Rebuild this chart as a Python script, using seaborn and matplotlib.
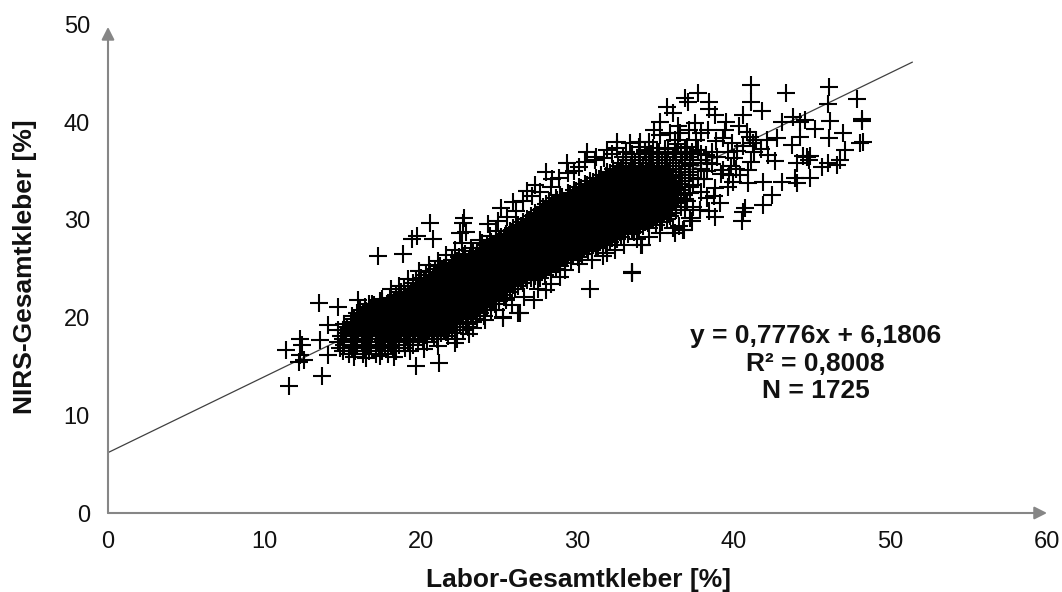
import matplotlib
matplotlib.use('Agg')
import matplotlib.pyplot as plt
import pandas as pd
import seaborn as sns

# scattered points
outer_x = [11.59, 11.37, 12.27, 12.37, 12.27, 12.5, 12.2, 13.67, 13.48, 14.67, 14.07, 13.55, 14.7, 14.07,
           17.23, 18.83, 20.58, 19.72, 19.4, 20.77, 22.75, 22.7, 22.5, 19.66, 21.15, 22.17, 23.07, 25.25, 26.2,
           41.09, 41.09, 43.32, 46.07, 45.99, 47.88, 37.68, 36.87, 37.06, 38.4, 38.4, 35.7, 36.1, 35.27, 38.8,
           41.77, 40.6, 43.05, 43.78, 44.2, 44.55, 46.13, 45.18, 48.2, 48.2, 46.97, 46.07, 48.25, 48.05, 47.09,
           44.2, 42.73, 43.68, 44.64, 44.86, 44.4, 44.8, 46.77, 46.56, 46.0, 45.6, 44.86, 43.9, 44.0, 43.05,
           41.85, 42.4, 41.85, 42.6, 42.2, 44.0, 40.9, 40.7, 40.6, 40.5, 38.8, 37.8, 38.25, 39.1, 36.9, 36.2,
           36.75, 34.06, 33.46, 33.5, 39.5, 39.4, 37.5, 36.55, 35.9, 38.85, 38.35, 32.5, 33.35, 34.0, 34.6,
           39.95, 39.6, 41.1, 40.3, 41.0, 41.4, 41.2, 40.8, 39.3, 40.1, 39.7]
outer_y = [13.0, 16.7, 17.8, 17.2, 16.2, 15.7, 15.5, 14.05, 21.5, 21.05, 19.2, 17.7, 18.7, 16.2,
           26.3, 26.5, 29.7, 28.35, 28.0, 28.0, 30.2, 29.7, 28.7, 15.05, 15.4, 17.4, 18.3, 20.1, 20.45,
           43.8, 42.1, 42.95, 43.6, 41.9, 42.4, 43.0, 42.45, 42.1, 42.1, 41.4, 41.6, 40.9, 40.05, 40.7,
           41.1, 40.7, 40.05, 40.56, 40.05, 40.2, 40.15, 39.3, 40.3, 40.1, 38.9, 38.4, 38.0, 37.9, 37.15,
           38.5, 38.4, 37.67, 36.4, 36.5, 36.5, 36.1, 36.1, 35.6, 35.8, 35.4, 34.3, 34.3, 33.75, 33.9,
           33.9, 32.55, 31.5, 36.0, 36.6, 35.8, 33.75, 31.2, 30.85, 29.9, 30.3, 31.0, 32.2, 31.7, 31.0, 28.65,
           28.95, 27.4, 24.7, 24.6, 40.05, 39.2, 39.9, 38.9, 38.9, 38.1, 39.2, 38.0, 37.85, 38.0, 38.0,
           33.9, 33.4, 35.9, 39.6, 38.5, 38.2, 37.9, 39.0, 38.4, 35.2, 34.6]

# edge of the dense band and the thinner part between x = 36 and x = 41
edge_x = [22.9, 23.8, 24.3, 24.9, 25.1, 25.9, 26.8, 27.3, 28.0, 28.4, 29.3, 29.8, 30.6, 31.2, 31.9, 32.5, 33.1,
          33.9, 34.6, 26.3, 25.25, 27.2, 28.0, 30.8, 33.5, 34.1, 25.4, 31.9, 31.2, 28.9,
          36.4, 37.0, 37.7, 38.2, 38.9, 39.6, 37.2, 37.9, 38.6, 39.3, 40.0, 36.7, 37.4, 38.1, 38.8, 35.8, 36.5, 37.2]
edge_y = [28.8, 27.9, 29.6, 29.9, 31.2, 31.8, 33.0, 33.6, 34.9, 34.2, 35.8, 35.0, 37.0, 36.4, 37.2, 37.4, 36.9,
          37.5, 36.9, 20.5, 20.0, 21.8, 22.8, 22.9, 24.7, 27.4, 21.8, 26.6, 27.2, 24.2,
          37.8, 36.9, 37.2, 36.6, 36.4, 36.9, 35.6, 35.2, 35.7, 35.1, 36.3, 34.0, 33.6, 34.2, 33.3, 30.6, 29.4, 30.2]

# uneven fringe around the band: upper side, lower side, then right of it
fringe_x = [16.0, 16.7, 17.5, 18.1, 18.6, 19.2, 19.9, 20.5, 21.1, 21.6, 22.2, 22.6, 23.2, 23.9, 24.4, 24.8, 25.5, 26.1,
            26.5, 27.1, 27.6, 28.3, 28.8, 29.4, 30.1, 30.5, 31.1, 31.7, 32.2, 32.9, 33.5, 34.3, 35.1, 35.6, 36.3, 37.0,
            15.7, 16.5, 17.4, 18.3, 19.3, 20.2, 21.1, 22.3, 23.3, 24.1, 24.8, 25.8, 26.6, 27.5, 28.3, 29.2, 30.1, 30.9,
            31.6, 32.4, 33.0, 33.8, 34.6, 35.3, 36.1, 36.8, 37.3,
            36.9, 37.4, 37.9, 38.4, 37.1, 37.7, 38.3, 38.7, 39.2, 39.8, 40.4, 40.9, 40.2, 39.9, 40.6, 41.3, 41.7, 42.1,
            37.9, 37.1, 36.4, 35.3, 34.9, 36.2, 37.6]
fringe_y = [21.8, 21.4, 21.9, 22.9, 23.2, 23.9, 24.8, 25.4, 25.8, 26.4, 26.9, 27.6, 27.1, 27.6, 28.4, 28.9, 30.3, 30.9,
            31.9, 32.4, 32.9, 33.4, 34.3, 34.8, 35.4, 35.9, 36.1, 36.3, 36.7, 36.4, 36.7, 37.2, 36.9, 37.3, 37.0, 37.5,
            16.0, 15.9, 16.1, 16.0, 16.6, 16.8, 17.1, 17.8, 18.9, 19.8, 20.8, 21.3, 22.1, 22.9, 23.4, 24.9, 25.5, 25.9,
            26.3, 26.9, 27.4, 28.0, 28.3, 28.7, 29.2, 29.0, 29.9,
            32.1, 31.3, 32.9, 30.9, 34.6, 34.2, 35.0, 32.4, 34.7, 35.5, 34.6, 35.1, 37.1, 37.9, 37.6, 36.9, 37.3, 38.2,
            38.9, 39.2, 39.6, 38.7, 39.2, 38.2, 38.2]

# dense black band: single crosses cannot be told apart, values estimated along rows of equal y
row_y = [16.3, 16.6, 16.9, 17.2, 17.5, 17.8, 18.1, 18.4, 18.7, 19.0, 19.3, 19.6, 19.9, 20.2, 20.5, 20.8, 21.1,
         21.4, 21.7, 22.0, 22.3, 22.6, 22.9, 23.2, 23.5, 23.8, 24.1, 24.4, 24.7, 25.0, 25.3, 25.6, 25.9, 26.2,
         26.5, 26.8, 27.1, 27.4, 27.7, 28.0, 28.3, 28.6, 28.9, 29.2, 29.5, 29.8, 30.1, 30.4, 30.7, 31.0, 31.3,
         31.6, 31.9, 32.2, 32.5, 32.8, 33.1, 33.4, 33.7, 34.0, 34.3, 34.6, 34.9, 35.2, 35.5, 35.8, 36.1, 36.4,
         36.7, 37.0, 37.4]
row_x = [
    [15.4, 16.3, 17.1, 17.9],
    [15.0, 15.8, 16.7, 17.5, 18.4],
    [14.8, 15.6, 16.4, 17.3, 18.2, 19.0],
    [15.1, 15.9, 16.8, 17.7, 18.6, 19.5],
    [14.7, 15.5, 16.3, 17.2, 18.0, 18.9, 19.8, 20.4],
    [15.0, 15.8, 16.6, 17.5, 18.4, 19.3, 20.1, 21.0],
    [14.9, 15.7, 16.5, 17.4, 18.2, 19.1, 19.9, 20.8, 21.7],
    [15.2, 16.0, 16.9, 17.8, 18.7, 19.6, 20.4, 21.3, 22.2],
    [15.0, 15.9, 16.7, 17.6, 18.5, 19.3, 20.2, 21.1, 22.0, 22.7],
    [15.3, 16.2, 17.0, 17.9, 18.8, 19.7, 20.6, 21.4, 22.3, 23.0],
    [15.1, 16.0, 16.8, 17.7, 18.6, 19.5, 20.3, 21.2, 22.1, 22.9],
    [15.5, 16.4, 17.3, 18.1, 19.0, 19.9, 20.8, 21.7, 22.5, 23.3],
    [15.7, 16.6, 17.5, 18.3, 19.2, 20.1, 21.0, 21.9, 22.7, 23.6],
    [15.6, 16.5, 17.4, 18.2, 19.1, 20.0, 20.9, 21.8, 22.6, 23.5, 24.0],
    [15.9, 16.8, 17.7, 18.6, 19.4, 20.3, 21.2, 22.1, 22.9, 23.8],
    [16.1, 17.0, 17.9, 18.8, 19.6, 20.5, 21.4, 22.3, 23.1, 24.0, 24.5],
    [16.4, 17.3, 18.1, 19.0, 19.9, 20.7, 21.6, 22.5, 23.4, 24.2],
    [16.9, 17.8, 18.7, 19.5, 20.4, 21.3, 22.2, 23.0, 23.9, 24.7],
    [17.4, 18.3, 19.2, 20.0, 20.9, 21.8, 22.7, 23.5, 24.4, 25.0],
    [18.0, 18.9, 19.7, 20.6, 21.5, 22.4, 23.2, 24.1, 25.0, 25.4],
    [18.4, 19.3, 20.1, 21.0, 21.9, 22.8, 23.6, 24.5, 25.3],
    [18.7, 19.6, 20.5, 21.3, 22.2, 23.1, 24.0, 24.8, 25.7],
    [18.9, 19.8, 20.7, 21.6, 22.4, 23.3, 24.2, 25.1, 26.0],
    [19.2, 20.1, 21.0, 21.8, 22.7, 23.6, 24.5, 25.3, 26.2],
    [19.5, 20.4, 21.2, 22.1, 23.0, 23.9, 24.7, 25.6, 26.5],
    [19.7, 20.6, 21.5, 22.3, 23.2, 24.1, 25.0, 25.9, 26.8, 27.2],
    [20.0, 20.9, 21.7, 22.6, 23.5, 24.4, 25.2, 26.1, 27.0, 27.6],
    [20.3, 21.2, 22.1, 22.9, 23.8, 24.7, 25.5, 26.4, 27.3, 27.9],
    [20.6, 21.4, 22.3, 23.2, 24.1, 24.9, 25.8, 26.7, 27.6, 28.3],
    [20.9, 21.8, 22.6, 23.5, 24.4, 25.2, 26.1, 27.0, 27.8, 28.6],
    [21.2, 22.1, 23.0, 23.8, 24.7, 25.6, 26.4, 27.3, 28.2, 28.9],
    [21.6, 22.5, 23.3, 24.2, 25.1, 25.9, 26.8, 27.7, 28.5, 29.2],
    [22.0, 22.8, 23.7, 24.5, 25.4, 26.3, 27.1, 28.0, 28.9, 29.6],
    [22.4, 23.2, 24.1, 24.9, 25.8, 26.6, 27.5, 28.4, 29.2, 30.0],
    [22.8, 23.6, 24.4, 25.3, 26.2, 27.0, 27.9, 28.7, 29.6, 30.3],
    [23.3, 24.1, 25.0, 25.8, 26.7, 27.5, 28.4, 29.2, 30.1, 30.7],
    [23.8, 24.6, 25.5, 26.3, 27.2, 28.0, 28.9, 29.7, 30.6, 31.3],
    [24.2, 25.0, 25.9, 26.7, 27.6, 28.4, 29.3, 30.2, 31.0, 31.8],
    [24.5, 25.4, 26.2, 27.1, 27.9, 28.8, 29.6, 30.5, 31.4, 32.1],
    [24.8, 25.7, 26.5, 27.4, 28.2, 29.1, 30.0, 30.8, 31.7, 32.5],
    [25.1, 26.0, 26.8, 27.7, 28.6, 29.4, 30.3, 31.1, 32.0, 32.8],
    [25.4, 26.3, 27.1, 28.0, 28.9, 29.7, 30.6, 31.4, 32.3, 33.2],
    [25.7, 26.5, 27.4, 28.3, 29.1, 30.0, 30.8, 31.7, 32.6, 33.5],
    [25.9, 26.8, 27.7, 28.5, 29.4, 30.3, 31.1, 32.0, 32.9, 33.8, 34.6],
    [26.2, 27.1, 27.9, 28.8, 29.7, 30.5, 31.4, 32.3, 33.1, 34.0, 35.0],
    [26.5, 27.3, 28.2, 29.1, 29.9, 30.8, 31.7, 32.5, 33.4, 34.3, 35.4],
    [26.8, 27.6, 28.5, 29.4, 30.2, 31.1, 32.0, 32.8, 33.7, 34.6, 35.7],
    [27.0, 27.9, 28.8, 29.6, 30.5, 31.4, 32.2, 33.1, 34.0, 34.9, 35.9],
    [27.3, 28.1, 29.0, 29.9, 30.7, 31.6, 32.5, 33.3, 34.2, 35.1, 36.0],
    [27.6, 28.4, 29.3, 30.1, 31.0, 31.9, 32.7, 33.6, 34.5, 35.4, 36.3],
    [27.8, 28.7, 29.5, 30.4, 31.3, 32.1, 33.0, 33.9, 34.7, 35.6, 36.6],
    [28.0, 28.9, 29.8, 30.6, 31.5, 32.4, 33.2, 34.1, 35.0, 35.9],
    [28.2, 29.1, 30.0, 30.9, 31.7, 32.6, 33.5, 34.3, 35.2, 36.1, 37.0],
    [28.6, 29.4, 30.3, 31.1, 32.0, 32.9, 33.7, 34.6, 35.5, 36.4],
    [28.9, 29.7, 30.6, 31.4, 32.3, 33.2, 34.0, 34.9, 35.7, 36.8],
    [29.4, 30.2, 31.1, 31.9, 32.8, 33.6, 34.5, 35.3, 36.2, 37.2],
    [29.8, 30.6, 31.5, 32.3, 33.2, 34.0, 34.8, 35.7, 36.6],
    [30.1, 31.0, 31.8, 32.7, 33.5, 34.4, 35.2, 36.1, 37.1],
    [30.5, 31.3, 32.2, 33.0, 33.9, 34.7, 35.5, 36.5],
    [30.8, 31.6, 32.5, 33.3, 34.2, 35.0, 35.9, 36.9],
    [31.2, 32.0, 32.8, 33.7, 34.5, 35.4, 36.3, 37.4],
    [31.5, 32.3, 33.2, 34.0, 34.8, 35.7, 36.6],
    [31.9, 32.7, 33.5, 34.4, 35.2, 36.1, 37.2],
    [32.3, 33.1, 33.9, 34.7, 35.6, 36.5],
    [32.6, 33.4, 34.2, 35.1, 35.9, 36.9],
    [32.9, 33.7, 34.6, 35.4, 36.3, 37.4, 38.3],
    [33.1, 34.0, 34.8, 35.7, 36.7, 37.9],
    [33.5, 34.4, 35.2, 36.1, 37.2],
    [33.9, 34.7, 35.6, 36.6, 37.9],
    [34.3, 35.2, 36.2, 37.3, 38.6],
    [34.8, 35.8, 36.9],
]

# second pass over the middle of the band, where the reference is solid black
mid_y = [17.05, 17.65, 18.25, 18.55, 18.85, 19.15, 19.45, 19.75, 20.05, 20.35, 20.65, 20.95, 21.25, 21.55, 21.85,
         22.15, 22.45, 22.75, 23.05, 23.35, 23.65, 23.95, 24.25, 24.55, 24.85, 25.15, 25.45, 25.75, 26.05, 26.35,
         26.65, 26.95, 27.25, 27.55, 27.85, 28.15, 28.45, 28.75, 29.05, 29.35, 29.65, 29.95, 30.25, 30.55, 30.85,
         31.15, 31.45, 31.75, 32.05, 32.35, 32.65, 32.95, 33.25, 33.55, 33.85, 34.15, 34.45, 34.75, 35.05, 35.35]
mid_x = [
    [15.5, 16.6, 17.4, 18.1],
    [15.6, 16.2, 17.6, 18.3, 19.2],
    [15.6, 16.2, 17.1, 17.9, 18.6, 19.5, 20.3, 21.1],
    [15.5, 16.3, 17.3, 18.0, 19.0, 20.0, 20.7, 21.6],
    [15.7, 16.4, 17.2, 18.2, 18.9, 19.8, 20.5, 21.5],
    [15.6, 16.6, 17.4, 18.4, 19.2, 20.1, 21.0, 21.8],
    [15.8, 16.4, 17.6, 18.3, 19.2, 20.1, 20.7, 21.8, 22.5],
    [16.1, 17.0, 17.8, 18.6, 19.5, 20.4, 21.3, 22.1],
    [16.2, 17.1, 17.8, 18.7, 19.6, 20.6, 21.3, 22.2, 23.0],
    [16.3, 17.2, 18.0, 18.9, 19.7, 20.6, 21.6, 22.4, 23.2],
    [16.5, 17.3, 18.2, 19.1, 20.0, 20.9, 21.7, 22.6, 23.4],
    [16.8, 17.6, 18.4, 19.3, 20.2, 21.1, 21.9, 22.8, 23.6],
    [17.0, 17.9, 18.6, 19.4, 20.3, 21.2, 22.0, 23.0, 23.8],
    [17.5, 18.4, 19.1, 19.9, 20.8, 21.6, 22.5, 23.3, 24.2],
    [18.1, 18.8, 19.6, 20.4, 21.3, 22.1, 23.0, 23.8, 24.6],
    [18.6, 19.4, 20.3, 21.2, 22.0, 22.9, 23.7, 24.7],
    [19.0, 19.9, 20.7, 21.5, 22.4, 23.3, 24.1, 25.0],
    [19.4, 20.2, 21.1, 21.9, 22.8, 23.5, 24.5, 25.3],
    [19.7, 20.5, 21.3, 22.2, 23.0, 23.9, 24.8, 25.5],
    [19.9, 20.8, 21.6, 22.5, 23.4, 24.2, 25.0, 25.9],
    [20.2, 21.0, 21.9, 22.7, 23.7, 24.5, 25.3, 26.2],
    [20.5, 21.3, 22.2, 23.0, 23.8, 24.8, 25.6, 26.4],
    [20.8, 21.6, 22.4, 23.3, 24.2, 25.0, 25.8, 26.7, 27.3],
    [21.0, 21.9, 22.7, 23.6, 24.4, 25.3, 26.1, 27.0, 27.6],
    [21.3, 22.1, 23.0, 23.9, 24.6, 25.5, 26.4, 27.2, 28.0],
    [21.6, 22.4, 23.3, 24.1, 25.0, 25.9, 26.6, 27.5, 28.3],
    [22.0, 22.8, 23.6, 24.4, 25.3, 26.1, 26.9, 27.9, 28.6],
    [22.3, 23.1, 24.0, 24.8, 25.6, 26.5, 27.3, 28.2, 28.9],
    [22.7, 23.5, 24.3, 25.2, 26.0, 26.8, 27.7, 28.5, 29.3],
    [23.1, 23.9, 24.7, 25.5, 26.4, 27.2, 28.1, 28.9, 29.7],
    [23.6, 24.3, 25.2, 26.0, 26.9, 27.7, 28.5, 29.4, 30.2],
    [24.0, 24.8, 25.7, 26.5, 27.4, 28.2, 29.0, 29.9, 30.9],
    [24.4, 25.3, 26.1, 26.9, 27.8, 28.6, 29.5, 30.4, 31.2],
    [24.8, 25.6, 26.4, 27.3, 28.1, 29.0, 29.8, 30.7, 31.6],
    [25.0, 25.9, 26.7, 27.6, 28.4, 29.3, 30.2, 31.0, 31.9],
    [25.3, 26.2, 27.0, 27.9, 28.7, 29.5, 30.4, 31.3, 32.2],
    [25.6, 26.4, 27.3, 28.1, 29.0, 29.9, 30.7, 31.6, 32.5],
    [25.8, 26.7, 27.5, 28.4, 29.3, 30.1, 31.0, 31.8, 32.7, 33.6],
    [26.1, 27.0, 27.8, 28.7, 29.5, 30.4, 31.2, 32.1, 33.0, 33.9],
    [26.4, 27.2, 28.1, 28.9, 29.8, 30.7, 31.5, 32.4, 33.3, 34.2],
    [26.7, 27.5, 28.4, 29.2, 30.1, 30.9, 31.8, 32.7, 33.5, 34.5],
    [26.9, 27.8, 28.6, 29.5, 30.4, 31.2, 32.1, 32.9, 33.8, 34.8],
    [27.2, 28.0, 28.9, 29.7, 30.6, 31.5, 32.3, 33.2, 34.1, 35.1],
    [27.5, 28.3, 29.2, 30.0, 30.9, 31.8, 32.6, 33.5, 34.4, 35.3],
    [27.7, 28.6, 29.4, 30.3, 31.2, 32.0, 32.9, 33.8, 34.6, 35.5],
    [27.9, 28.8, 29.7, 30.5, 31.4, 32.3, 33.1, 34.0, 34.9, 35.8],
    [28.2, 29.0, 29.9, 30.8, 31.6, 32.5, 33.4, 34.2, 35.1, 36.0],
    [28.4, 29.3, 30.2, 31.0, 31.9, 32.8, 33.6, 34.5, 35.4, 36.3],
    [28.7, 29.6, 30.4, 31.3, 32.2, 33.0, 33.9, 34.8, 35.6],
    [29.0, 29.9, 30.7, 31.6, 32.5, 33.3, 34.2, 35.0, 35.9],
    [29.5, 30.3, 31.2, 32.0, 32.9, 33.7, 34.6, 35.4, 36.4],
    [29.9, 30.7, 31.6, 32.4, 33.3, 34.1, 35.0, 35.8],
    [30.2, 31.1, 31.9, 32.8, 33.6, 34.5, 35.3, 36.2],
    [30.6, 31.4, 32.3, 33.1, 34.0, 34.8, 35.6],
    [31.0, 31.8, 32.6, 33.5, 34.3, 35.2, 36.0],
    [31.4, 32.2, 33.0, 33.8, 34.6, 35.5],
    [31.8, 32.5, 33.4, 34.2, 35.0, 35.9],
    [32.1, 32.9, 33.7, 34.5, 35.4],
    [32.5, 33.3, 34.1, 34.9, 35.8],
    [32.8, 33.6, 34.4, 35.2],
]

trend_x = [0, 51.4]
trend_y = [6.18, 46.15]
x_ticks = [0, 10, 20, 30, 40, 50, 60]
y_ticks = [0, 10, 20, 30, 40, 50]

x_all = outer_x + edge_x + fringe_x + [x for row in row_x + mid_x for x in row]
y_all = outer_y + edge_y + fringe_y + [y for y, row in zip(row_y + mid_y, row_x + mid_x) for x in row]
points = pd.DataFrame({'labor': x_all, 'nirs': y_all})

sns.set_style('white')
plt.rcParams['font.family'] = ['Liberation Sans', 'DejaVu Sans']

fig = plt.figure(figsize=(10.62, 5.92), dpi=100)
axes = fig.add_axes([108 / 1062, 1 - 513 / 592, 939 / 1062, 488.5 / 592])

sns.lineplot(x=trend_x, y=trend_y, color='#404040', linewidth=0.9, ax=axes)
sns.scatterplot(data=points, x='labor', y='nirs', marker='+', s=175, color='black', linewidth=1.5,
                zorder=3, ax=axes)

axes.set_xlim(0, 60)
axes.set_ylim(0, 50)
axes.set_xticks(x_ticks)
axes.set_yticks(y_ticks)
axes.tick_params(length=0, labelsize=17, labelcolor='#111111', pad=13)
sns.despine(ax=axes, left=True, bottom=True, top=True, right=True)

axes.set_xlabel('Labor-Gesamtkleber [%]', fontsize=19, fontweight='bold', color='#111111')
axes.set_ylabel('NIRS-Gesamtkleber [%]', fontsize=19, fontweight='bold', color='#111111')
axes.xaxis.set_label_coords(470 / 939, -54.5 / 488.5)
axes.yaxis.set_label_coords(-71 / 939, 0.505)

# grey axis arrows
arrow = dict(arrowstyle='-|>,head_length=0.75,head_width=0.38', color='#868686', lw=1.5, shrinkA=0, shrinkB=0)
axes.annotate('', xy=(1, 0), xytext=(0, 0), xycoords='axes fraction', arrowprops=arrow)
axes.annotate('', xy=(0, 0.995), xytext=(0, 0), xycoords='axes fraction', arrowprops=arrow)

axes.text(45.2, 15.3, 'y = 0,7776x + 6,1806\nR² = 0,8008\nN = 1725', fontsize=19, fontweight='bold',
          color='#111111', ha='center', va='center', linespacing=1.2)

fig.savefig('out.png', dpi=100)
